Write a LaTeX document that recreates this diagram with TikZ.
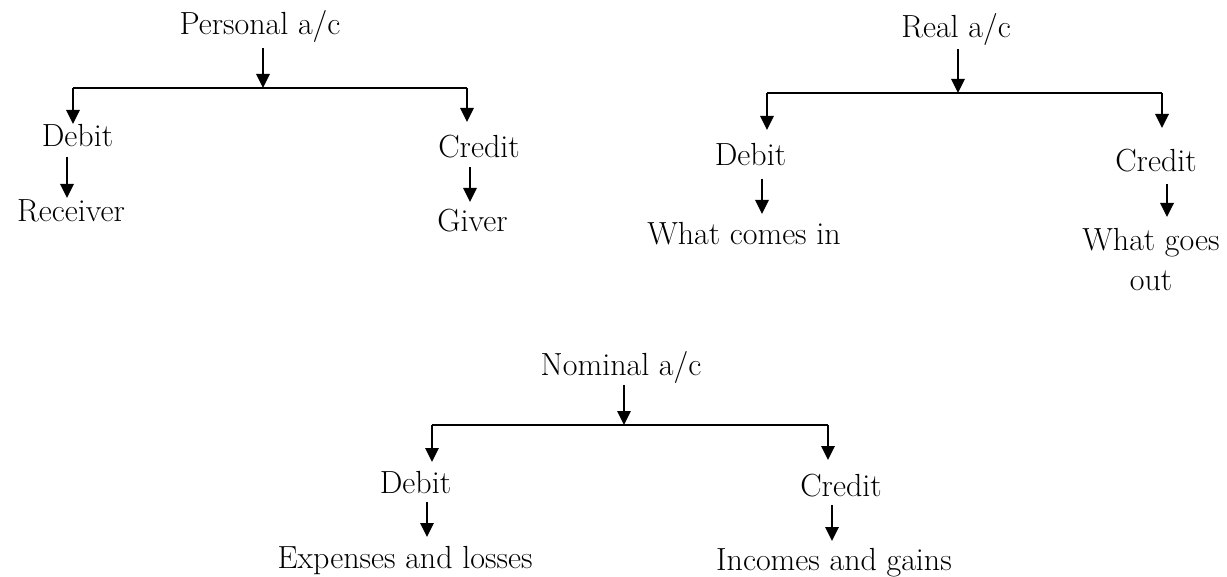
\documentclass[tikz,border=0pt]{standalone}
\usetikzlibrary{arrows.meta}
\begin{document}
\begin{tikzpicture}[x=0.75pt,y=-0.75pt,
  lbl/.style={anchor=base,inner sep=0pt,font=\fontsize{24}{30}\selectfont},
  arr/.style={line width=1.7pt,-{Triangle[length=10.5pt,width=10pt]}},
  bar/.style={line width=1.7pt,line join=miter}]
\useasboundingbox (0,0) rectangle (1227,577);

% ---------- Personal a/c ----------
\node[lbl] (pers) at (260,35) {Personal a/c};
\node[lbl] (pdeb) at (77.5,147) {Debit};
\node[lbl] (prec) at (71,222) {Receiver};
\node[lbl] (pcre) at (479,158) {Credit};
\node[lbl] (pgiv) at (472.5,232) {Giver};
\coordinate (pa1) at (263,48);
\coordinate (pj) at (263,88);
\coordinate (pl) at (73,88);
\coordinate (pr) at (467,88);
\coordinate (pdt) at (73,124);
\coordinate (pct) at (467,122);
\coordinate (pb1) at (67,157);
\coordinate (pb2) at (67,198);
\coordinate (pc1) at (470,167);
\coordinate (pc2) at (470,202);
\draw[arr] (pa1) -- (pj);
\draw[bar] (pl) -- (pr);
\draw[arr] (pl) -- (pdt);
\draw[arr] (pr) -- (pct);
\draw[arr] (pb1) -- (pb2);
\draw[arr] (pc1) -- (pc2);

% ---------- Real a/c ----------
\node[lbl] (real) at (956,38) {Real a/c};
\node[lbl] (rdeb) at (750.5,166) {Debit};
\node[lbl] (rwci) at (744,245) {What comes in};
\node[lbl] (rcre) at (1156,172) {Credit};
\node[lbl,anchor=north,align=center] (rwgo) at (1151,228) {What goes\\out};
\coordinate (ra1) at (958,49);
\coordinate (rj) at (958,93);
\coordinate (rl) at (767,93);
\coordinate (rr) at (1162,93);
\coordinate (rdt) at (767,130);
\coordinate (rct) at (1162,128);
\coordinate (rb1) at (762,179);
\coordinate (rb2) at (762,214);
\coordinate (rc1) at (1167,184);
\coordinate (rc2) at (1167,217);
\draw[arr] (ra1) -- (rj);
\draw[bar] (rl) -- (rr);
\draw[arr] (rl) -- (rdt);
\draw[arr] (rr) -- (rct);
\draw[arr] (rb1) -- (rb2);
\draw[arr] (rc1) -- (rc2);

% ---------- Nominal a/c ----------
\node[lbl] (nom) at (621,375) {Nominal a/c};
\node[lbl] (ndeb) at (415.5,493) {Debit};
\node[lbl] (nexp) at (405,568) {Expenses and losses};
\node[lbl] (ncre) at (841,496) {Credit};
\node[lbl] (ninc) at (834,570) {Incomes and gains};
\coordinate (na1) at (624,385);
\coordinate (nj) at (624,425);
\coordinate (nl) at (432,425);
\coordinate (nr) at (828,425);
\coordinate (ndt) at (432,462);
\coordinate (nct) at (828,460);
\coordinate (nb1) at (427,502);
\coordinate (nb2) at (427,537);
\coordinate (nc1) at (832,505);
\coordinate (nc2) at (832,541);
\draw[arr] (na1) -- (nj);
\draw[bar] (nl) -- (nr);
\draw[arr] (nl) -- (ndt);
\draw[arr] (nr) -- (nct);
\draw[arr] (nb1) -- (nb2);
\draw[arr] (nc1) -- (nc2);
\end{tikzpicture}
\end{document}
